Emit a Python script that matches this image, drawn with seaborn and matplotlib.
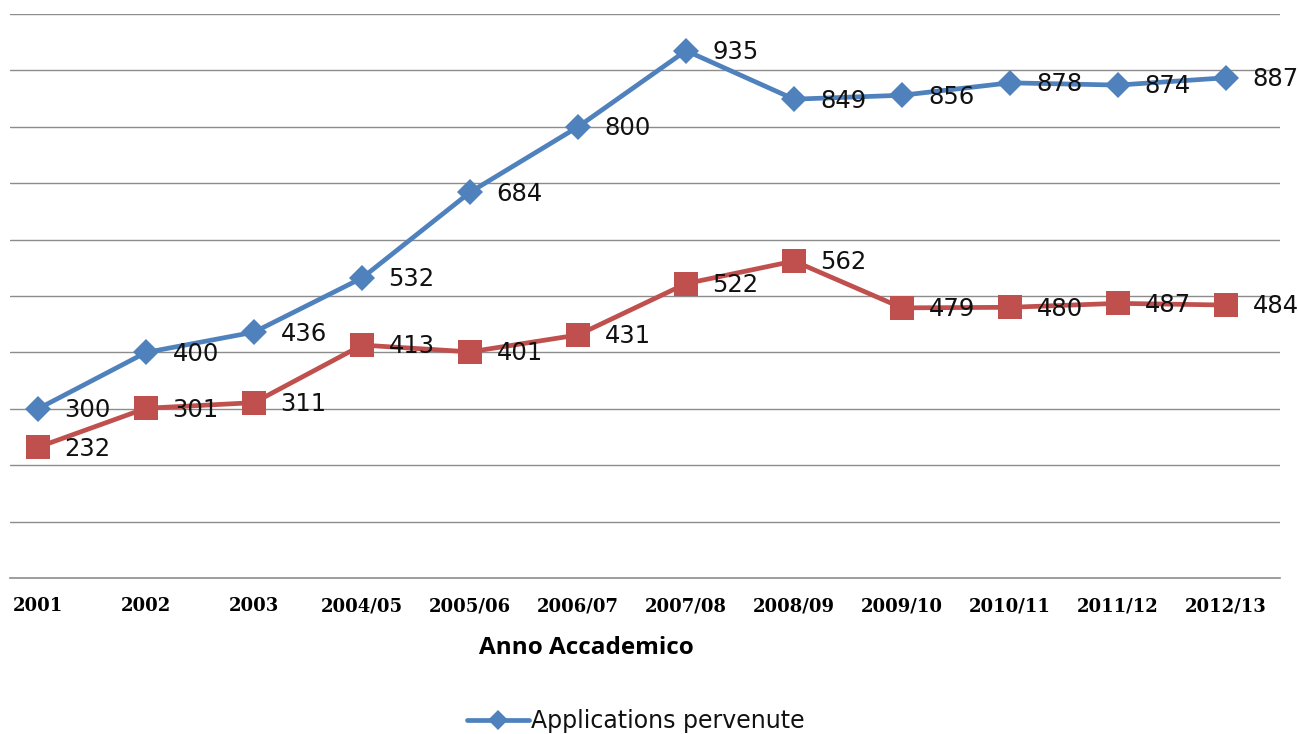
import matplotlib
matplotlib.use("Agg")
import matplotlib.pyplot as plt
import numpy as np
import pandas as pd
import seaborn as sns
from matplotlib.lines import Line2D

years = ["2001", "2002", "2003", "2004/05", "2005/06", "2006/07",
         "2007/08", "2008/09", "2009/10", "2010/11", "2011/12", "2012/13"]
pervenute = [300, 400, 436, 532, 684, 800, 935, 849, 856, 878, 874, 887]
accolte = [232, 301, 311, 413, 401, 431, 522, 562, 479, 480, 487, 484]
series_names = ["Applications pervenute", "Applications accolte"]
colors = ["#4F81BD", "#C0504D"]

df = pd.DataFrame({
    "anno": years * 2,
    "valore": pervenute + accolte,
    "serie": [series_names[0]] * len(years) + [series_names[1]] * len(years),
})

sns.set_style("white")
fig = plt.figure(figsize=(12.98, 7.34), dpi=100)
ax = fig.add_axes([10 / 1298, 0.2125, 1270 / 1298, 0.7684])

sns.lineplot(data=df, x="anno", y="valore", hue="serie", style="serie",
             palette=colors, markers={series_names[0]: "D", series_names[1]: "s"},
             dashes=False, linewidth=3.4, sort=False, ax=ax, legend=False,
             markeredgewidth=0, zorder=3)
# marker sizes per series
for line, ms in zip(ax.get_lines(), [13, 17]):
    line.set_markersize(ms)

for vals in [pervenute, accolte]:
    for i, v in enumerate(vals):
        ax.annotate(str(v), (i, v), xytext=(19, -1), textcoords="offset points",
                    fontsize=17.5, va="center", ha="left", color="#111111",
                    family="DejaVu Sans", zorder=4)

ax.set_xlim(-0.26, len(years) - 0.5)
ax.set_ylim(0, 1000)
ax.set_yticks(np.arange(100, 1001, 100))
ax.set_yticklabels([])
ax.grid(axis="y", color="#8c8c8c", linewidth=1)
ax.tick_params(axis="y", length=0)

ax.set_xticks(range(len(years)))
ax.set_xticklabels(years, fontsize=13, fontweight="bold", family="DejaVu Serif",
                   color="black")
ax.set_xticks(np.arange(0.5, len(years) - 0.5, 1), minor=True)
ax.tick_params(axis="x", which="major", length=0, pad=14)
ax.tick_params(axis="x", which="minor", length=6, color="#8c8c8c", width=1)

for s in ["top", "left", "right"]:
    ax.spines[s].set_visible(False)
ax.spines["bottom"].set_color("#8c8c8c")
ax.spines["bottom"].set_linewidth(1.2)

ax.set_xlabel("Anno Accademico", fontsize=17.5, fontweight="bold",
              family="Open Sans", color="black")
ax.xaxis.set_label_coords(0.4535, -0.102)
ax.set_ylabel("")

handle = Line2D([], [], color=colors[0], marker="D", markersize=10, linewidth=3.4,
                markeredgewidth=0)
leg = fig.legend([handle], [series_names[0]], loc="center",
                 bbox_to_anchor=(636 / 1298, 1 - 721 / 734), frameon=False,
                 handlelength=2.6, handletextpad=0.1,
                 prop={"family": "DejaVu Sans", "size": 17})
for t in leg.get_texts():
    t.set_color("#111111")

fig.savefig("out.png", dpi=100)
